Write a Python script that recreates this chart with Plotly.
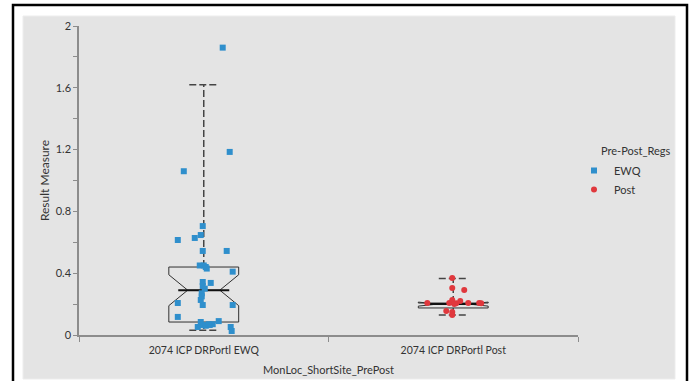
import plotly.graph_objects as go

# ---------------- data ----------------
categories = ["2074 ICP DRPortl EWQ", "2074 ICP DRPortl Post"]

ewq_values = [1.86, 1.185, 1.06, 0.705, 0.647, 0.628, 0.615, 0.544, 0.544,
              0.45, 0.45, 0.44, 0.43, 0.41, 0.343, 0.337, 0.317, 0.30, 0.27,
              0.25, 0.227, 0.194, 0.207, 0.194, 0.117, 0.084, 0.065, 0.07,
              0.09, 0.052, 0.06, 0.065, 0.052, 0.026, 0.07]
ewq_jitter = [0.076, 0.104, -0.08, -0.004, -0.012, -0.036, -0.104, -0.004, 0.092,
              -0.016, 0.0, 0.008, 0.012, 0.116, -0.004, 0.028, -0.004, 0.004, -0.008,
              -0.008, -0.012, -0.004, -0.104, 0.116, -0.104, -0.012, -0.004, 0.036,
              0.06, -0.024, 0.008, 0.024, 0.108, 0.112, 0.02]

post_values = [0.369, 0.304, 0.291, 0.207, 0.207, 0.226, 0.205, 0.22, 0.207,
               0.207, 0.205, 0.155, 0.149, 0.13, 0.20]
post_jitter = [-0.004, -0.004, 0.044, -0.104, -0.016, -0.004, 0.012, 0.028, 0.06,
               0.104, 0.112, -0.028, -0.004, -0.004, 0.004]

# box statistics: q1, median, q3, lower whisker, upper whisker, notch half-span
q1 = [0.084, 0.175]
median = [0.29, 0.20]
q3 = [0.44, 0.207]
whisker_low = [0.03, 0.13]
whisker_high = [1.62, 0.365]
notch_span = [0.10, 0.013]

y_ticks = [0, 0.4, 0.8, 1.2, 1.6, 2]
y_tick_labels = ["0", "0.4", "0.8", "1.2", "1.6", "2"]

legend_title = "Pre-Post_Regs"

# ---------------- figure ----------------
FONT = "Lato"
BOX_W = 0.28
CAP_HALF = 0.058
NOTCH_W = 0.27
pos = [0, 1]

fig = go.Figure()

# boxes (no whiskers: fences at the box edges)
for i in range(2):
    fig.add_trace(go.Box(
        x=[pos[i]], q1=[q1[i]], median=[median[i]], q3=[q3[i]],
        lowerfence=[q1[i]], upperfence=[q3[i]],
        notched=True, notchspan=[notch_span[i]], notchwidth=NOTCH_W,
        width=BOX_W, whiskerwidth=0,
        line=dict(color="#303030", width=1), fillcolor="rgba(0,0,0,0)",
        boxpoints=False, showlegend=False, hoverinfo="skip"))

# dashed whiskers and caps, thick median
for i in range(2):
    p = pos[i]
    fig.add_trace(go.Scatter(x=[p, p], y=[q3[i], whisker_high[i]], mode="lines",
                             line=dict(color="#444444", width=1.5, dash="7px,3px"),
                             showlegend=False, hoverinfo="skip"))
    fig.add_trace(go.Scatter(x=[p, p], y=[q1[i], whisker_low[i]], mode="lines",
                             line=dict(color="#444444", width=1.5, dash="7px,3px"),
                             showlegend=False, hoverinfo="skip"))
    for w in (whisker_high[i], whisker_low[i]):
        fig.add_trace(go.Scatter(x=[p - CAP_HALF, p + CAP_HALF], y=[w, w], mode="lines",
                                 line=dict(color="#444444", width=1.5, dash="7px,3px"),
                                 showlegend=False, hoverinfo="skip"))
    mh = BOX_W / 2 * (1 - NOTCH_W)
    fig.add_trace(go.Scatter(x=[p - mh, p + mh], y=[median[i], median[i]], mode="lines",
                             line=dict(color="#111111", width=2),
                             showlegend=False, hoverinfo="skip"))

# points
fig.add_trace(go.Scatter(
    x=[pos[0] + j for j in ewq_jitter], y=ewq_values, mode="markers", name="EWQ",
    marker=dict(symbol="square", size=6, color="#2f8fcc")))
fig.add_trace(go.Scatter(
    x=[pos[1] + j for j in post_jitter], y=post_values, mode="markers", name="Post",
    marker=dict(symbol="circle", size=6, color="#e0383d")))

# plot-area geometry in pixels (for the background panel & frame)
L, R, T, B = 79, 578, 26, 335
def px(x): return (x - L) / (R - L)
def py(y): return (B - y) / (B - T)

shapes = [
    dict(type="rect", xref="paper", yref="paper", layer="below",
         x0=px(23), x1=px(675), y0=py(379), y1=py(16),
         fillcolor="#e4e4e4", line=dict(color="#ededed", width=1)),
    dict(type="rect", xref="paper", yref="paper", layer="above",
         x0=px(13), x1=px(687), y0=py(388), y1=py(5),
         fillcolor="rgba(0,0,0,0)", line=dict(color="#000000", width=2.5)),
]

fig.update_layout(
    width=695, height=381,
    margin=dict(l=L, r=695 - R, t=T, b=381 - B, autoexpand=False),
    paper_bgcolor="white", plot_bgcolor="rgba(0,0,0,0)",
    font=dict(family=FONT, size=11, color="#333333"),
    shapes=shapes,
    annotations=[dict(text=legend_title, xref="paper", yref="paper",
                      x=px(599), y=py(150), xanchor="left", yanchor="middle",
                      showarrow=False, font=dict(size=11, color="#333333"))],
    legend=dict(x=px(574), y=py(156), xanchor="left", yanchor="top",
                bgcolor="rgba(0,0,0,0)", font=dict(size=11), tracegroupgap=2),
    xaxis=dict(range=[-0.5, 1.5], tickvals=pos, ticktext=categories, ticks="",
               automargin=False, ticklabelstandoff=5,
               showgrid=False, zeroline=False, showline=True, linecolor="#8c8c8c",
               linewidth=1.5, ticklen=0,
               minor=dict(tickvals=[-0.5, 0.5, 1.5], ticks="outside", ticklen=5,
                          tickcolor="#8c8c8c", showgrid=False),
               title=dict(text="MonLoc_ShortSite_PrePost", font=dict(size=11), standoff=11),
               tickfont=dict(size=10.5)),
    yaxis=dict(range=[0, 2], tickvals=y_ticks, ticktext=y_tick_labels, ticks="outside",
               automargin=False,
               ticklen=4, tickcolor="#8c8c8c", showgrid=False, zeroline=False,
               showline=True, linecolor="#8c8c8c", linewidth=1.5,
               minor=dict(dtick=0.2, ticks="outside", ticklen=4, tickcolor="#8c8c8c",
                          showgrid=False),
               title=dict(text="Result Measure", font=dict(size=12), standoff=3),
               tickfont=dict(size=11)),
)

fig.write_html("out.html", config=dict(displayModeBar=False),
               post_script="document.body.style.margin='0';document.body.style.overflow='hidden';")
